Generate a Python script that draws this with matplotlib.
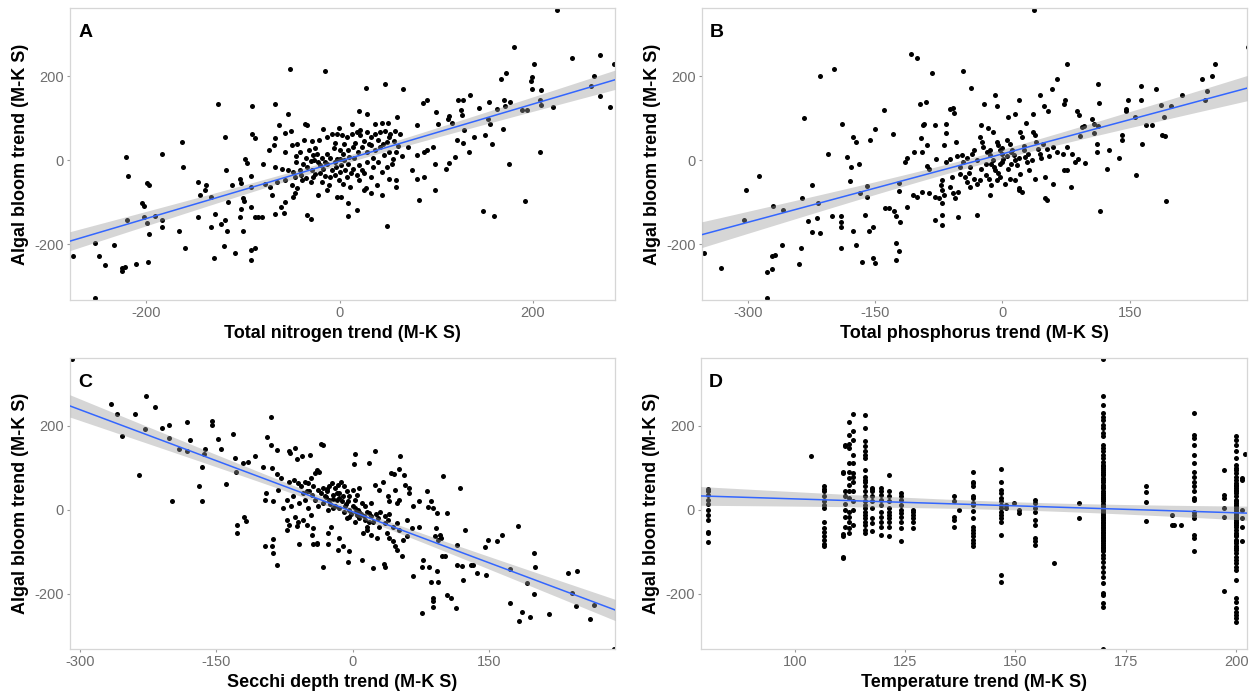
import numpy as np
import matplotlib.pyplot as plt

plt.rcParams['font.family'] = ['Liberation Sans', 'DejaVu Sans']
plt.rcParams['axes.unicode_minus'] = False

# Algal bloom trend vs. driver trends (Mann-Kendall S), one (x, y) per lake
nitrogen_pts = [
    (-51, 218), (-126, 133), (-91, 129), (-119, 56), (-91, 63), (-87, 52), (-163, 44), (-221, 9),
    (-184, 16), (-219, -38), (-162, -16), (-199, -54), (-197, -60), (-204, -103), (-202, -110),
    (-220, -143), (-202, -135), (-191, -133), (-184, -143), (-199, -149), (-184, -159), (-197, -175),
    (-253, -198), (-233, -202), (-249, -229), (-243, -250), (-225, -256), (-222, -254), (-211, -248),
    (-198, -242), (-276, -228), (-253, -329), (-225, -263), (-166, -168), (-160, -210), (-146, -52),
    (-138, -60), (-139, -71), (-144, -83), (-133, -87), (-146, -135), (-133, -159), (-129, -129),
    (-123, -151), (-119, -143), (-130, -233), (-120, -205), (-118, -24), (-115, -99), (-116, -169),
    (-111, -58), (-108, -222), (-103, -45), (-102, -54), (-100, -91), (-99, -98), (-102, -117),
    (-103, -135), (-100, -169), (-98, 4), (-96, -6), (-92, -38), (-92, -63), (-92, -111), (-92, -214),
    (-92, -237), (-87, -210), (-87, -135), (-84, -135),
    (225, 359), (181, 270), (269, 252), (241, 243), (284, 229), (201, 229), (172, 209), (167, 194),
    (199, 198), (198, 190), (263, 200), (260, 176), (199, 170), (208, 167), (269, 153), (207, 143),
    (208, 131), (221, 127), (280, 126), (170, 144), (176, 140), (155, 140), (171, 129), (163, 122),
    (189, 119), (194, 119), (135, 156), (123, 144), (128, 144), (126, 121), (127, 109), (113, 105),
    (112, 99), (144, 125), (154, 99), (156, 86), (169, 75), (150, 60), (158, 38), (139, 56),
    (122, 48), (128, 41), (129, 71), (116, 89), (119, 8), (113, -6), (110, -20), (134, 20),
    (175, -8), (207, 20), (192, -97), (148, -121), (160, -133),
    (-15, 213), (27, 173), (47, 181), (66, 171), (-67, 133), (-53, 111), (20, 117), (28, 111),
    (59, 103), (86, 137), (90, 143), (100, 115), (80, 83), (102, 87),
    (-63, 83), (-36, 87), (-34, 83), (-17, 75), (-1, 78), (13, 87), (21, 73), (37, 87), (44, 89), (50, 89),
    (-67, 52), (-56, 65), (-50, 69), (-37, 48), (-29, 45), (-21, 48), (-13, 56), (-8, 63), (-3, 63),
    (2, 60), (8, 56), (13, 63), (18, 67), (21, 60), (28, 67), (32, 56), (37, 63), (42, 67), (47, 70),
    (52, 63), (57, 69), (63, 63), (51, 56), (49, 44), (56, 46),
    (-73, 24), (-68, 36), (-56, 20), (-49, 36), (-44, 40), (-41, 20), (-32, 24), (-27, 12), (-23, 16),
    (-18, 6), (-13, 16), (-6, 30), (-3, 4), (4, 16), (9, 24), (14, 32), (19, 20), (23, 32), (28, 20),
    (32, 36), (37, 24), (42, 32), (46, 12), (51, 20), (55, 4), (58, 20), (71, 32), (80, 12), (87, 20),
    (90, 25), (97, 32),
    (-79, -8), (-67, -16), (-60, -20), (-53, -24), (-48, -28), (-41, -22), (-34, -17), (-29, -24),
    (-25, -32), (-20, -12), (-17, -20), (-13, -8), (-8, -24), (-4, -16), (1, -12), (6, -24), (9, -8),
    (14, -20), (20, -12), (23, -24), (28, -4), (35, -16), (40, -4), (44, -28), (49, -16), (54, -8),
    (75, -24), (80, -44), (87, -41), (99, -10),
    (-77, -56), (-72, -63), (-65, -52), (-56, -48), (-49, -60), (-46, -40), (-44, -67), (-39, -48),
    (-30, -52), (-27, -40), (-18, -52), (-11, -60), (-10, -40), (-1, -48), (4, -56), (11, -63),
    (20, -46), (27, -67), (33, -40), (39, -60), (51, -44), (58, -63),
    (-70, -83), (-61, -111), (-56, -99), (-67, -127), (-58, -125), (-48, -87), (-46, -79), (-34, -131),
    (-30, -139), (-22, -83), (-13, -71), (-3, -87), (1, -87), (9, -103), (9, -133), (18, -119),
    (25, -71), (33, -79), (44, -83), (49, -157), (58, -48), (82, -95), (99, -71), (-80, -135),
    (-45, -5), (-38, -10), (-35, 5), (-30, -2), (-26, 0), (-22, -5), (-15, -3), (-10, 5), (-5, -5),
    (0, 3), (5, 0), (10, 8), (15, 5), (-40, -35), (-35, -42), (-20, -30), (-15, -38), (-5, -35),
    (0, -28), (8, -40), (12, -30), (18, -35), (25, -30), (30, 40), (25, 45), (16, 42), (5, 40),
    (-5, 42), (-25, 30), (-45, 10), (0, 25), (35, 5), (40, 48), (45, 38), (60, 35), (65, 10),
]

phosphorus_pts = [
    (-351, -221), (-331, -256), (-304, -143), (-302, -71), (-287, -38), (-277, -266), (-271, -258),
    (-270, -110), (-271, -229), (-268, -226), (-260, -202), (-258, -119), (-277, -329), (-240, -248),
    (-237, -210), (-236, -90), (-234, 101), (-224, -58), (-224, -171), (-229, -144), (-219, -137),
    (-217, -103), (-215, -173), (-215, 202), (-199, 217), (-206, 16), (-201, -133), (-190, -133),
    (-190, -147), (-190, -159), (-190, -210), (-189, 86), (-183, 8), (-180, -50), (-178, -16),
    (-176, 56), (-173, 44), (-169, -10), (-176, -169), (-168, -78), (-172, -201), (-165, -242),
    (-162, -131), (-159, -87), (-159, -62), (-157, -169), (-156, 48), (-150, 75), (-153, -234),
    (-150, -246), (-153, -159), (-140, 119), (-138, -113), (-134, -113), (-129, 62), (-128, -121),
    (-125, -133), (-125, -198), (-126, -237), (-122, -216), (-122, -54), (-122, -74), (-121, -147),
    (-108, 254), (-101, 244),
    (37, 359), (289, 270), (250, 229), (247, 200), (235, 193), (241, 165), (239, 144), (211, 156),
    (181, 171), (163, 176), (163, 143), (148, 144), (145, 123), (145, 117), (114, 137), (76, 229),
    (126, 24), (123, -20), (137, 6), (141, 60), (141, 49), (156, 102), (169, 83), (176, 83),
    (164, 40), (157, -36), (187, 131), (190, 103), (188, 60), (191, 57), (199, 129), (193, -97),
    (115, -121), (88, 117), (90, 107), (94, 79), (96, 81), (105, 99), (108, 87), (112, 81),
    (91, 59), (108, 66), (111, 38), (111, 20), (97, -6),
    (-83, 208), (-47, 212), (-37, 172), (64, 193), (58, 171), (113, 181), (-97, 133), (-90, 139),
    (-62, 123), (-58, 125), (-57, 113), (-22, 133), (-9, 155), (-7, 129), (19, 143), (44, 155),
    (72, 135), (74, 143), (-94, 83), (-92, 87), (-80, 83), (-66, 87), (-67, 65), (-25, 83),
    (-17, 78), (-11, 67), (7, 103), (15, 111), (28, 89), (36, 111), (49, 129), (54, 117),
    (-115, -4), (-113, 6), (-104, 20), (-95, 20), (-96, 52), (-89, 36), (-78, 4), (-89, -14),
    (-87, -20), (-69, 36), (-55, 44), (-67, -4), (-62, 4), (-54, 10), (-48, 12), (-46, -4),
    (-42, 6), (-38, -16), (-36, 16), (-34, 24), (-26, 56), (-24, 44), (-23, 32), (-18, 20),
    (-15, 12), (-13, -8), (-11, 0), (-7, 44), (-5, 36), (-3, 24), (-1, 16), (1, 4), (-3, -8),
    (-9, -24), (5, 48), (9, 40), (11, 24), (13, 12), (15, 0), (17, -12), (7, -20), (21, 67),
    (23, 56), (25, 24), (27, 8), (29, -4), (31, -24), (21, -32), (36, 67), (38, 60), (40, 44),
    (42, 28), (44, 16), (48, 40), (52, 28), (59, 32), (64, 20), (71, 16), (76, 32), (82, 16),
    (85, -4), (89, 4),
    (-50, -32), (-44, -40), (-42, -52), (-38, -63), (-34, -44), (-30, -56), (-26, -48), (-20, -36),
    (-16, -44), (-13, -60), (-7, -48), (-3, -40), (3, -56), (9, -44), (15, -48), (19, -67),
    (-71, -48), (-73, -60), (-71, -71), (-69, -83), (-62, -63), (-58, -79), (-56, -91), (-52, -75),
    (-105, -83), (-101, -87), (-95, -75), (-87, -79), (-79, -87), (-75, -91), (-71, -103),
    (-113, -111), (-79, -143), (-71, -131), (-71, -155), (-52, -135), (-30, -131), (-15, -83),
    (19, -71), (23, -75), (38, -44), (50, -40), (50, -91), (52, -95), (60, -56), (72, -22),
    (76, -24), (81, -63),
    (-20, -10), (-10, -15), (0, -5), (5, 10), (10, -10), (20, 5), (-30, 0), (-25, -20), (-5, -30),
    (30, 15), (35, 0), (45, 5), (-40, -30), (-50, -15), (0, 30), (10, 20), (-15, 25), (25, 35),
    (55, 10), (-60, -40),
]

secchi_pts = [
    (-309, 359), (-266, 252), (-259, 229), (-254, 176), (-240, 229), (-235, 83), (-227, 270),
    (-228, 192), (-218, 244), (-210, 194), (-202, 201), (-202, 171), (-199, 20), (-191, 144),
    (-182, 209), (-182, 139), (-179, 167), (-169, 56), (-166, 101), (-166, 20), (-164, 133),
    (-163, 144), (-155, 212), (-155, 201), (-148, 169), (-145, 144), (-140, 62), (-132, 180),
    (-130, 123), (-128, 91), (-127, -36), (-127, -54), (-90, 220),
    (-94, 173), (-90, 155), (-84, 143), (-70, 139), (-69, 135), (-64, 147), (-62, 121), (-56, 129),
    (-47, 131), (-35, 157), (-33, 155), (2, 133), (1, 110), (18, 111), (24, 140), (52, 129),
    (51, 97), (42, 87), (45, 85), (-108, 127), (-115, 115), (-121, 111), (-99, 103), (-89, 99),
    (-84, 85), (-79, 75), (-70, 67), (-65, 71), (-60, 63), (-57, 56), (-53, 67), (-49, 63),
    (-46, 75), (-42, 87), (-40, 95), (-37, 91),
    (-48, 44), (-44, 56), (-38, 48), (-33, 52), (-29, 44), (-26, 56), (-23, 63), (-20, 52),
    (-16, 60), (-13, 67), (-10, 56), (-31, 32), (-26, 24), (-22, 36), (-18, 24), (-15, 40),
    (-11, 32), (-7, 44), (-4, 32), (0, 48), (2, 24), (5, 36), (7, 52), (10, 16),
    (-42, 24), (-38, 8), (-33, 16), (-27, 0), (-22, 4), (-15, 4), (-9, 8), (-4, 0), (2, 4),
    (7, -4), (13, 8), (18, -8), (20, 16),
    (-4, -16), (2, -28), (7, -20), (13, -24), (16, -40), (22, -28), (27, -20), (29, -40), (35, -32),
    (38, -24), (44, -40), (48, -32), (51, -48), (59, -24), (65, -44), (73, -41),
    (11, -56), (15, -48), (20, -60), (26, -67), (37, -56), (40, -67), (44, -75), (46, -87),
    (48, -95), (55, -71), (59, -63),
    (24, 60), (29, 48), (33, 67), (38, 32), (40, 20), (46, 48), (48, 16), (51, 24), (57, 60),
    (62, 40), (66, 8), (73, 20), (81, 44), (86, 20), (88, 4), (90, -63), (93, -71),
    (-120, -16), (-118, -26), (-97, 24), (-96, 41), (-88, 20), (-82, 48), (-77, 4), (-73, 24),
    (-68, 8), (-66, 32), (-59, 16), (-53, 24), (-49, 4), (-73, -24), (-70, -36), (-64, -16),
    (-60, -28), (-55, -24), (-51, -36), (-46, -12), (-73, -48), (-62, -38), (-45, -60), (-44, -44),
    (-40, -79), (-27, -56), (-24, -40), (-15, -67), (-11, -87), (-4, -99), (-16, -95),
    (-88, -70), (-89, -87), (-97, -87), (-88, -103), (-84, -131), (-59, -81), (-44, -81),
    (-40, -81), (-27, -82), (-33, -135), (-5, -123), (10, -119), (22, -139), (34, -129),
    (35, -135), (54, -110), (66, -157), (77, -119), (76, -135), (84, -135), (86, -171), (93, -171),
    (99, 81), (118, 53), (103, -8), (123, -49), (114, -83), (98, -109), (101, -109), (114, -131),
    (120, -133), (121, -167), (130, -132), (132, -131), (136, -149), (146, -155), (145, -89),
    (148, -71), (158, -75), (164, -60), (181, -38), (173, -141), (191, -173), (199, -103),
    (200, -135), (199, -201), (173, -221), (186, -242), (182, -264), (195, -256), (215, -248),
    (236, -151), (246, -145), (241, -198), (245, -228), (261, -260), (265, -226), (287, -331),
    (76, -246), (88, -210), (88, -217), (88, -232), (103, -202), (108, -210), (113, -234),
    (83, 6), (92, -8), (91, -42), (96, -60), (97, -67), (92, -145), (56, 83), (62, 53),
    (-30, 30), (-25, 15), (-20, 10), (-18, 40), (-12, 20), (-8, 15), (-5, 20), (0, 10), (3, -5),
    (6, 0), (9, -10), (12, -15), (-35, 40), (-28, 50), (-22, 25), (-15, 28), (-2, -10), (5, -12),
    (15, -5), (20, -15), (25, -10), (30, -5), (-45, 35), (-50, 45), (-55, 40), (35, -15),
    (40, -10), (-10, -5), (-6, -20), (18, -30),
]

# Temperature trends come in discrete values, so lakes stack in columns
temp_cols = [80.4, 103.8, 106.6, 111.0, 111.5, 112.2, 113.2, 115.9, 117.5, 119.5, 121.4, 124.1,
             126.9, 136.1, 137.3, 140.5, 146.8, 147.8, 149.6, 150.7, 154.5, 158.7, 164.3, 169.9,
             179.6, 185.4, 186.0, 187.5, 190.4, 197.2, 200.0, 201.3, 202.0]
temp_vals = [
    [50, 44, 36, 24, 13, 0, -12, -24, -52, -56, -77],
    [129],
    [56, 50, 44, 32, 21, 12, 4, -28, -44, -52, -63, -71, -82, -87],
    [90, 87, -58, -63, -111, -115],
    [155, 151, 44, 32, 13, 0, -16, -40],
    [210, 179, 156, 147, 111, 91, 75, 60, 45, 29, -4, -16, -28, -42, -56],
    [228, 188, 167, 131, 111, 87, 79, 67, 44, 20, 0, -36],
    [225, 194, 164, 151, 139, 131, 123, 95, 79, 71, 66, 56, 44, 32, 20, 12, 4, -4, -12, -20,
     -28, -36, -48, -56],
    [53, 50, 44, 32, 21, 4, -20, -32, -50],
    [52, 44, 36, 24, 12, -4, -16, -28, -40, -60],
    [83, 44, 32, 20, 4, -4, -12, -20, -28, -40, -62],
    [40, 32, 24, 12, 0, -8, -16, -28, -44, -74],
    [0, -4, -12, -20, -28, -44],
    [34, 20, -16, -24, -40],
    [0],
    [91, 67, 63, 56, 32, 28, 16, 12, -2, -20, -40, -48, -56, -63, -71, -79, -86],
    [98, 67, 48, 40, 28, 20, 12, 4, -4, -12, -20, -28, -60, -155, -172],
    [12, 4],
    [16],
    [0, -8],
    [24, 16, 4, -4, -24, -36, -67, -75, -83],
    [-127],
    [16, -20],
    [359, 270, 250, 230, 222, 214, 202, 194, 183, 175, 155, 147, 139, 131, 123, 115, 107, 99, 91,
     83, 75, 67, 60, 52, 44, 36, 28, 20, 12, 4, -4, -12, -20, -28, -36, -44, -52, -60, -67, -75,
     -83, -91, -99, -107, -115, -123, -135, -147, -159, -175, -198, -202, -222, -230, -331,
     105, 95, 85, 70, 55, 40, 30, 25, 15, 8, 0, -8, -16, -24, -32, -40, -48, -56, -64, -72, -80,
     -88, -95],
    [56, 42, 18, -26],
    [-12, -36],
    [-36],
    [-36],
    [230, 179, 171, 155, 131, 111, 91, 79, 67, 56, 44, 28, 24, -4, -12, -20, -60, -67, -97],
    [95, 36, 28, 4, -16, -194],
    [175, 167, 155, 139, 123, 107, 95, 87, 79, 71, 63, 56, 48, 40, 32, 24, 16, 8, 0, -8, -16,
     -24, -32, -40, -48, -56, -63, -71, -79, -87, -95, -103, -111, -119, -127, -135, -143, -167,
     -210, -218, -234, -242, -250, -258, -266, 100, 60, 52, 44, 20, 12, 4, -4, -12, -20, -28, -36,
     -60, -75, -90],
    [75, -20, -40, -75, 70, 0],
    [133],
]
temperature_pts = [(t, v) for t, vals in zip(temp_cols, temp_vals) for v in vals]

panels = [
    ('A', nitrogen_pts, 'Total nitrogen trend (M-K S)', (-279, 285), [-200, 0, 200]),
    ('B', phosphorus_pts, 'Total phosphorus trend (M-K S)', (-354, 288), [-300, -150, 0, 150]),
    ('C', secchi_pts, 'Secchi depth trend (M-K S)', (-311, 288), [-300, -150, 0, 150]),
    ('D', temperature_pts, 'Temperature trend (M-K S)', (78.7, 202.4), [100, 125, 150, 175, 200]),
]
ylims = [(-333, 363), (-333, 363), (-331, 361), (-331, 361)]
positions = [
    [0.056, 0.569, 0.4364, 0.4195],
    [0.562, 0.569, 0.4364, 0.4195],
    [0.056, 0.0675, 0.4364, 0.418],
    [0.561, 0.0675, 0.4372, 0.418],
]


def lm_band(x, y, xs, t=1.97):
    # ordinary least squares with a 95% confidence band for the mean
    n = len(x)
    slope, inter = np.polyfit(x, y, 1)
    resid = y - (slope * x + inter)
    s = np.sqrt(np.sum(resid ** 2) / (n - 2))
    sxx = np.sum((x - x.mean()) ** 2)
    fit = slope * xs + inter
    se = s * np.sqrt(1.0 / n + (xs - x.mean()) ** 2 / sxx)
    return fit, fit - t * se, fit + t * se


fig = plt.figure(figsize=(12.49, 6.96), dpi=100)

for (letter, pts, xlabel, xlim, xticks), ylim, pos in zip(panels, ylims, positions):
    ax = fig.add_axes(pos)
    arr = np.array(pts, dtype=float)
    x, y = arr[:, 0], arr[:, 1]

    ax.scatter(x, y, s=13, color='black', linewidths=0, zorder=2)
    xs = np.linspace(xlim[0], xlim[1], 100)
    fit, lo, hi = lm_band(x, y, xs)
    ax.fill_between(xs, lo, hi, color='#999999', alpha=0.4, linewidth=0, zorder=3)
    ax.plot(xs, fit, color='#3366FF', linewidth=1.1, zorder=4)

    ax.set_xlim(xlim)
    ax.set_ylim(ylim)
    ax.set_xticks(xticks)
    ax.set_yticks([-200, 0, 200])
    ax.tick_params(direction='out', length=2.5, width=0.8, color='#9a9a9a',
                   labelcolor='#6e6e6e', labelsize=10.5, pad=2)
    for sp in ax.spines.values():
        sp.set_color('#d6d6d6')
        sp.set_linewidth(0.9)

    ax.set_xlabel(xlabel, fontsize=13, fontweight='bold')
    ax.set_ylabel('Algal bloom trend (M-K S)', fontsize=13, fontweight='bold')
    ax.xaxis.set_label_coords(0.5, -0.085)
    ax.yaxis.set_label_coords(-0.075, 0.5)
    ax.text(0.015, 0.945, letter, transform=ax.transAxes, fontsize=14,
            fontweight='bold', va='top', ha='left')

fig.savefig('out.png', dpi=100)
